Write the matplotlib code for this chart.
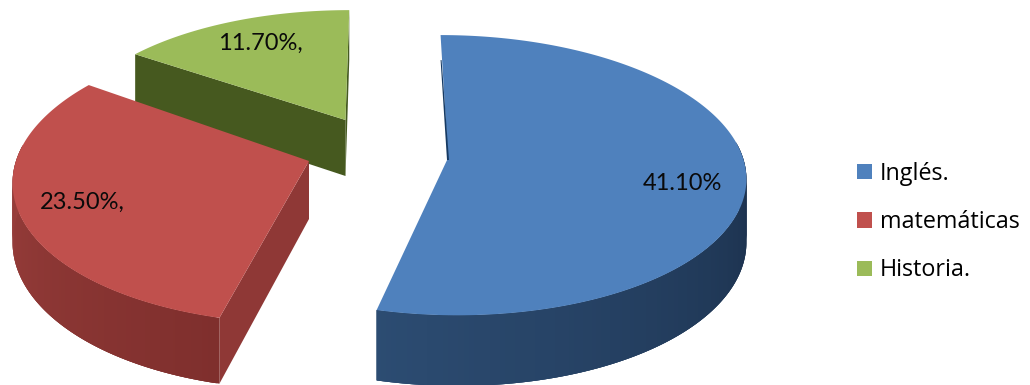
import numpy as np
import matplotlib
matplotlib.use("Agg")
import matplotlib.pyplot as plt
from matplotlib.patches import Patch
from matplotlib.colors import to_rgb

categories = ["Inglés.", "matemáticas", "Historia."]
values = [41.1, 23.5, 11.7]
labels = ["41.10%", "23.50%,", "11.70%,"]
colors = ["#4F81BD", "#C0504D", "#9BBB59"]
side_left = ["#2C4C72", "#9A3F3C", "#46591F"]
side_right = ["#1A2E49", "#7F2F2D", "#46591F"]

VX, VY, K = 380.0, 158.0, 0.1226
apex = [(448, 158), (309, 161), (345.5, 120)]
radius = [(295, 138), (293, 142), (277, 128)]
depth = [62, 58, 56]

fig = plt.figure(figsize=(10.3, 3.85), dpi=100)
ax = fig.add_axes([0, 0, 1, 1])
ax.set_xlim(0, 1030)
ax.set_ylim(385, 0)
ax.axis("off")


def project(theta, r, ap, rad, drop=0.0):
    X, Y = r * np.sin(theta), r * np.cos(theta)
    s = 1 / (1 + K * Y)
    x = VX + (ap[0] - VX + rad[0] * X) * s
    y = VY + (ap[1] - VY - rad[1] * Y) * s + drop * s
    return x, y


total = sum(values)
edges = np.radians(np.r_[0, np.cumsum(values)] / total * 360)


def mix(a, b, t):
    a, b = np.array(to_rgb(a)), np.array(to_rgb(b))
    return tuple(a + (b - a) * t)


def draw_wedge(i, z):
    t0, t1 = edges[i], edges[i + 1]
    ap, rad, d = apex[i], radius[i], depth[i]
    th = np.linspace(t0, t1, 220)
    ax_, ay_ = project(th, 1.0, ap, rad)
    bx_, by_ = project(th, 1.0, ap, rad, d)
    cx, cy = project(0.0, 0.0, ap, rad)
    cbx, cby = project(0.0, 0.0, ap, rad, d)

    if i == 2:  # cut faces of the green wedge
        ax.fill([ax_[0], cx, cbx, bx_[0]], [ay_[0], cy, cby, by_[0]],
                color="#46591F", lw=0, zorder=z)
        ax.fill([ax_[-1], cx, cbx, bx_[-1]], [ay_[-1], cy, cby, by_[-1]],
                color="#455A20", lw=0, zorder=z)
    if i == 1:  # cut face towards the centre
        ax.fill([ax_[0], cx, cbx, bx_[0]], [ay_[0], cy, cby, by_[0]],
                color="#8F3836", lw=0, zorder=z)

    # outer side, only where it faces the viewer
    vis = np.where(np.cos(th) < 0.12)[0]
    if i != 2 and len(vis) > 1:
        n = len(vis)
        for k in range(n - 1):
            j = vis[k]
            e = vis[min(k + 3, n - 1)]
            c = mix(side_right[i], side_left[i], k / (n - 1))
            idx = np.arange(j, e + 1)
            ax.fill(np.r_[ax_[idx], bx_[idx][::-1]], np.r_[ay_[idx], by_[idx][::-1]],
                    color=c, lw=0, zorder=z)

    ax.fill(np.r_[cx, ax_], np.r_[cy, ay_], color=colors[i], lw=0, zorder=z + 0.1)


draw_wedge(2, 1)
draw_wedge(1, 2)
draw_wedge(0, 3)
top_sl = project(0.0, 1.0, apex[0], radius[0])
ax.fill([top_sl[0], top_sl[0] + 1, apex[0][0] + 1, apex[0][0] - 1],
        [top_sl[1] + 25, top_sl[1] + 25, apex[0][1] + 2, apex[0][1] + 2],
        color="#163A63", lw=0, zorder=4)

FONT = ["Lato", "DejaVu Sans"]
label_pos = [(682, 183), (82, 202), (260, 43)]
for (x, y), lab in zip(label_pos, labels):
    ax.text(x, y, lab, ha="center", va="center", fontsize=17, family=FONT,
            color="#0A0A0A", zorder=6)

handles = [Patch(facecolor=c, edgecolor="none", label=l) for c, l in zip(colors, categories)]
leg = ax.legend(handles=handles, loc="center left", bbox_to_anchor=(857, 222),
                bbox_transform=ax.transData, frameon=False,
                prop={"family": ["Open Sans", "DejaVu Sans"], "size": 16.8},
                handlelength=0.65, handleheight=0.65, handletextpad=0.33,
                labelspacing=1.05, borderpad=0, borderaxespad=0)

fig.savefig("out.png", dpi=100, facecolor="white")
